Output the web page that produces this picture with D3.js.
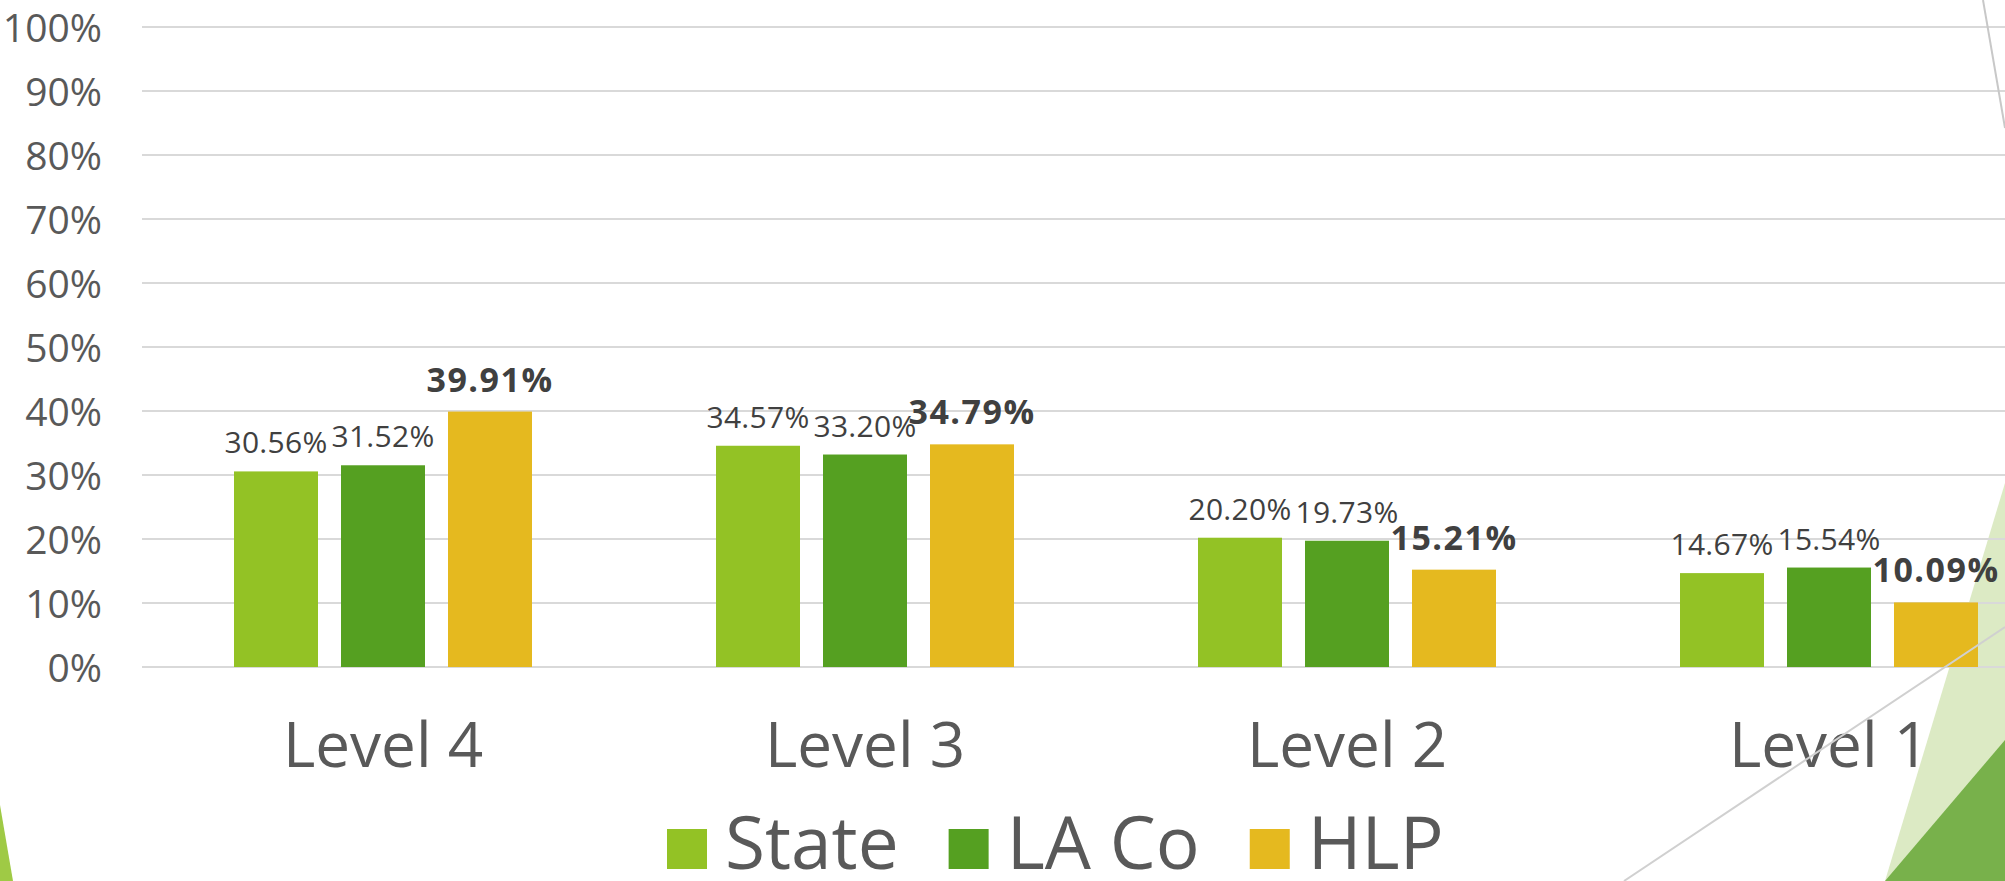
<!DOCTYPE html>
<html>
<head>
<meta charset="utf-8">
<script src="https://cdn.jsdelivr.net/npm/d3@7"></script>
<style>
  html, body { margin: 0; padding: 0; background: #fff; overflow: hidden; }
  svg { display: block; font-family: "Open Sans", "DejaVu Sans", sans-serif; }
</style>
</head>
<body>
<div id="chart"></div>
<script>
// data
const levels = ["Level 4", "Level 3", "Level 2", "Level 1"];
const series = ["State", "LA Co", "HLP"];
const stateVals = [30.56, 34.57, 20.20, 14.67];
const laCoVals = [31.52, 33.20, 19.73, 15.54];
const hlpVals = [39.91, 34.79, 15.21, 10.09];
const yTicks = [0, 10, 20, 30, 40, 50, 60, 70, 80, 90, 100];
const colors = ["#93c225", "#55a021", "#e5b91f"];

const width = 2005, height = 881;
const valuesBySeries = [stateVals, laCoVals, hlpVals];

const rows = levels.map((lvl, i) => ({
  level: lvl,
  values: series.map((s, j) => ({ series: s, idx: j, value: valuesBySeries[j][i] }))
}));

const svg = d3.select("#chart").append("svg")
  .attr("width", width)
  .attr("height", height);

// slide decoration (Facet theme shapes)
svg.append("polygon")
  .attr("points", "2005,483 1885,881 2005,881")
  .attr("fill", "#dceac4");
svg.append("polygon")
  .attr("points", "2005,740 1885,881 2005,881")
  .attr("fill", "#78b14b");
svg.append("polygon")
  .attr("points", "0,805 13,881 0,881")
  .attr("fill", "#9fca45");

// the chart area runs past the right edge of the slide
const x0 = d3.scaleBand().domain(levels).range([142, 2070]);
const x1 = d3.scaleBand().domain(series).range([92, 390]).paddingInner(0.215);
const y = d3.scaleLinear().domain([0, 100]).range([667, 27]);

// gridlines
svg.append("g")
  .selectAll("line")
  .data(yTicks)
  .enter().append("line")
  .attr("x1", 142)
  .attr("x2", width)
  .attr("y1", d => y(d))
  .attr("y2", d => y(d))
  .attr("stroke", "#d9d9d9")
  .attr("stroke-width", 2);

// y axis labels
const yAxis = svg.append("g")
  .attr("transform", "translate(102,0)")
  .call(d3.axisLeft(y).tickValues(yTicks).tickSize(0).tickPadding(0).tickFormat(d => d + "%"));
yAxis.select(".domain").remove();
yAxis.selectAll("text")
  .attr("fill", "#595959")
  .attr("font-size", 39)
  .attr("font-family", "\"Open Sans\", sans-serif")
  .attr("dy", "0.37em");

// category labels
const xAxis = svg.append("g")
  .attr("transform", "translate(0,667)")
  .call(d3.axisBottom(x0).tickSize(0).tickPadding(0));
xAxis.select(".domain").remove();
xAxis.selectAll("text")
  .attr("fill", "#595959")
  .attr("font-size", 62)
  .attr("font-family", "\"Open Sans\", sans-serif")
  .attr("dy", "100px");

// bars
const groups = svg.append("g")
  .selectAll("g")
  .data(rows)
  .enter().append("g")
  .attr("transform", d => "translate(" + x0(d.level) + ",0)");

groups.selectAll("rect")
  .data(d => d.values)
  .enter().append("rect")
  .attr("x", d => x1(d.series))
  .attr("y", d => y(d.value))
  .attr("width", x1.bandwidth())
  .attr("height", d => y(0) - y(d.value))
  .attr("fill", d => colors[d.idx]);

// value labels, HLP ones in bold
groups.selectAll("text")
  .data(d => d.values)
  .enter().append("text")
  .attr("x", d => x1(d.series) + x1.bandwidth() / 2)
  .attr("y", d => y(d.value) - (d.idx == 2 ? 20 : 18))
  .attr("text-anchor", "middle")
  .attr("fill", "#404040")
  .attr("font-size", d => d.idx == 2 ? 34 : 30)
  .attr("letter-spacing", d => d.idx == 2 ? 1.5 : 0.3)
  .attr("font-weight", d => d.idx == 2 ? "bold" : "normal")
  .text(d => d.value.toFixed(2) + "%");

// thin lines of the theme, drawn over the chart
svg.append("line")
  .attr("x1", 1983).attr("y1", 0).attr("x2", 2005).attr("y2", 128)
  .attr("stroke", "#c8c8c8").attr("stroke-width", 2);
svg.append("line")
  .attr("x1", 1624).attr("y1", 881).attr("x2", 2005).attr("y2", 627)
  .attr("stroke", "#d0d0d0").attr("stroke-width", 2);

// legend
const legend = svg.append("g").attr("transform", "translate(667,0)");
let lx = 0;
series.forEach((s, i) => {
  const item = legend.append("g").attr("transform", "translate(" + lx + ",0)");
  item.append("rect")
    .attr("x", 0).attr("y", 829)
    .attr("width", 40).attr("height", 40)
    .attr("fill", colors[i]);
  const t = item.append("text")
    .attr("x", 58).attr("y", 869)
    .attr("fill", "#595959")
    .attr("font-size", 73)
    .text(s);
  lx += 58 + t.node().getComputedTextLength() + 50;
});
</script>
</body>
</html>
